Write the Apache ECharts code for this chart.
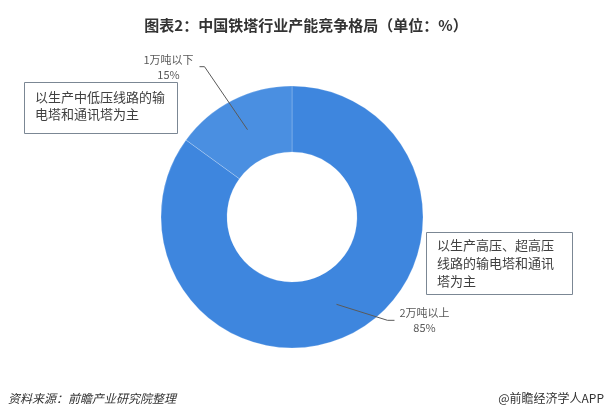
<!DOCTYPE html>
<html>
<head>
<meta charset="utf-8">
<script src="https://cdn.jsdelivr.net/npm/echarts@6/dist/echarts.min.js"></script>
<style>
html,body{margin:0;padding:0;background:#fff;}
#chart{width:612px;height:417px;}
</style>
</head>
<body>
<div id="chart"></div>
<script>
// ---- data ----
const categories = ['2万吨以上', '1万吨以下'];
const values = [85, 15];
const sliceColors = ['#3e86de', '#4a8fe1'];
const titleText = '图表2：中国铁塔行业产能竞争格局（单位：%）';
const noteLeft = '以生产中低压线路的输\n电塔和通讯塔为主';
const noteRight = '以生产高压、超高压\n线路的输电塔和通讯\n塔为主';
const sourceText = '资料来源：前瞻产业研究院整理';
const brandText = '@前瞻经济学人APP';

// ---- layout (leader-line shape offsets per slice, relative to library-computed start) ----
const guide = [
  { elbow: [51, 16], end: [7, 0], text: [30, 0] },
  { elbow: [-43, -63], end: [-5, 0], text: [-31, 1] }
];

const FONT = '"Noto Sans CJK SC", "Noto Sans", sans-serif';
const chart = echarts.init(document.getElementById('chart'), null, { renderer: 'canvas' });

const pieData = categories.map((c, i) => ({ name: c, value: values[i], itemStyle: { color: sliceColors[i] } }));

chart.setOption({
  backgroundColor: '#ffffff',
  animation: false,
  title: {
    text: titleText,
    left: 'center',
    top: 13,
    textStyle: { fontFamily: FONT, fontSize: 15, fontWeight: 'bold', color: '#333333' }
  },
  series: [
    {
      type: 'pie',
      center: [292, 217],
      radius: [65, 131],
      startAngle: 90,
      clockwise: true,
      silent: true,
      label: { show: false },
      labelLine: { show: false },
      itemStyle: { borderColor: 'rgba(255,255,255,0.35)', borderWidth: 0.6 },
      data: pieData
    },
    {
      type: 'pie',
      center: [292, 217],
      radius: [0, 98],
      startAngle: 90,
      clockwise: true,
      silent: true,
      z: 3,
      itemStyle: { color: 'rgba(0,0,0,0)' },
      emphasis: { disabled: true },
      label: {
        show: true,
        position: 'outside',
        formatter: '{b}\n{c}%',
        fontFamily: FONT,
        fontSize: 11,
        lineHeight: 15,
        color: '#595959'
      },
      labelLine: {
        show: true,
        length: 20,
        length2: 5,
        lineStyle: { color: '#5a5a5a', width: 1 }
      },
      labelLayout: function (params) {
        const pts = params.labelLinePoints;
        const g = guide[params.dataIndex];
        if (!pts || !pts.length || !g) return {};
        const p0 = pts[0];
        const p1 = [p0[0] + g.elbow[0], p0[1] + g.elbow[1]];
        const p2 = [p1[0] + g.end[0], p1[1] + g.end[1]];
        return {
          x: p2[0] + g.text[0],
          y: p2[1] + g.text[1],
          align: 'center',
          verticalAlign: 'middle',
          labelLinePoints: [p0, p1, p2]
        };
      },
      data: categories.map((c, i) => ({ name: c, value: values[i] }))
    }
  ],
  graphic: [
    {
      type: 'rect',
      shape: { x: 24.5, y: 82.5, width: 153, height: 51 },
      style: { fill: '#ffffff', stroke: '#7b8794', lineWidth: 1 },
      z: 10
    },
    {
      type: 'text',
      x: 35, y: 88.5,
      style: { text: noteLeft, fontFamily: FONT, fontSize: 13, lineHeight: 17, fill: '#404040' },
      z: 11
    },
    {
      type: 'rect',
      shape: { x: 426.5, y: 232.5, width: 146, height: 62 },
      style: { fill: '#ffffff', stroke: '#7b8794', lineWidth: 1 },
      z: 10
    },
    {
      type: 'text',
      x: 437, y: 236,
      style: { text: noteRight, fontFamily: FONT, fontSize: 13, lineHeight: 18, fill: '#404040' },
      z: 11
    },
    {
      type: 'text',
      x: 8, y: 398,
      style: { text: sourceText, fontFamily: FONT, fontSize: 12, fontStyle: 'italic', fill: '#333333', textVerticalAlign: 'middle' },
      z: 11
    },
    {
      type: 'text',
      x: 604, y: 398,
      style: { text: brandText, fontFamily: FONT, fontSize: 12, fill: '#333333', textAlign: 'right', textVerticalAlign: 'middle' },
      z: 11
    }
  ]
});
</script>
</body>
</html>
